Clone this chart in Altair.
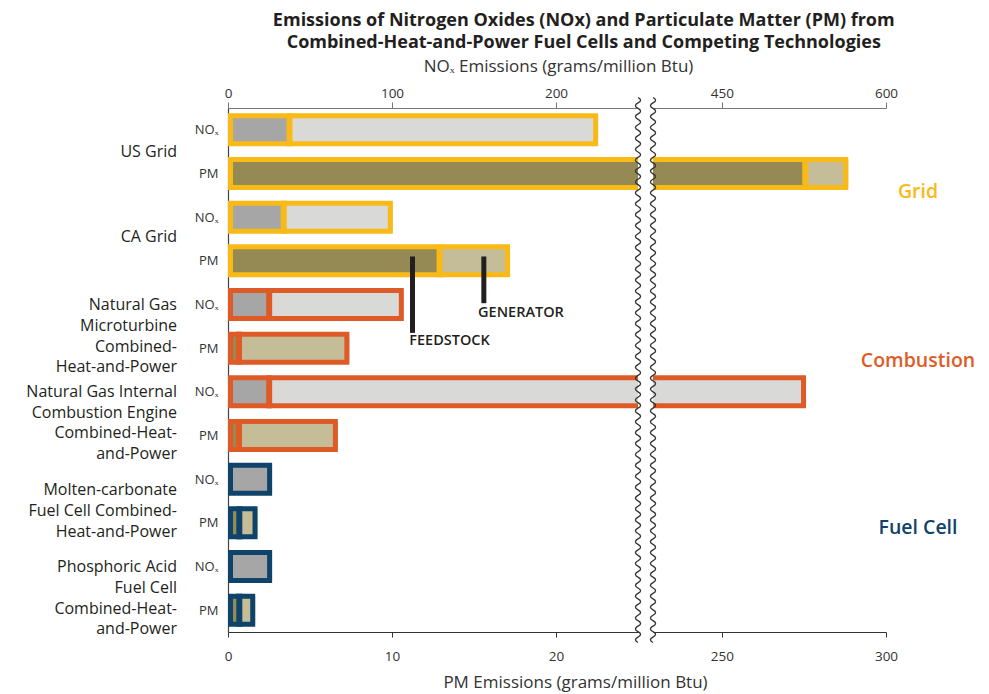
import altair as alt
import pandas as pd

# ---------------- data ----------------
group_names = ["US Grid", "CA Grid",
               "Natural Gas Microturbine Combined-Heat-and-Power",
               "Natural Gas Internal Combustion Engine Combined-Heat-and-Power",
               "Molten-carbonate Fuel Cell Combined-Heat-and-Power",
               "Phosphoric Acid Fuel Cell Combined-Heat-and-Power"]
group_label_lines = [["US Grid"], ["CA Grid"],
                     ["Natural Gas", "Microturbine", "Combined-", "Heat-and-Power"],
                     ["Natural Gas Internal", "Combustion Engine", "Combined-Heat-", "and-Power"],
                     ["Molten-carbonate", "Fuel Cell Combined-", "Heat-and-Power"],
                     ["Phosphoric Acid", "Fuel Cell", "Combined-Heat-", "and-Power"]]
group_label_first_row = [1.00, 2.95, 4.51, 6.50, 8.75, 10.51]
group_category = ["Grid", "Grid", "Combustion", "Combustion", "Fuel Cell", "Fuel Cell"]

# NOx (grams/million Btu)
nox_feedstock = [37.5, 34.0, 25.1, 25.1, 26.9, 26.9]
nox_total = [225.7, 100.5, 107.2, 526.9, 26.9, 26.9]
# PM (grams/million Btu)
pm_feedstock = [275.4, 12.9, 0.67, 0.67, 0.69, 0.69]
pm_total = [288.5, 17.2, 7.4, 6.7, 1.80, 1.66]

categories = ["Grid", "Combustion", "Fuel Cell"]
category_colors = ["#F9BA17", "#DE5B27", "#0F436A"]
category_label_rows = [1.92, 5.80, 9.62]

segment_keys = ["NOx feedstock", "NOx generator", "PM feedstock", "PM generator"]
segment_colors = ["#A6A6A6", "#D9D9D7", "#958A54", "#C5BD97"]

annotation_text = ["FEEDSTOCK", "GENERATOR"]
annotation_pm = [11.25, 15.6]
annotation_top_row = [3.40, 3.40]
annotation_bottom_row = [5.15, 4.47]
annotation_label_pm = [11.05, 15.25]
annotation_label_row = [5.34, 4.70]

left_nox_domain = [0, 250]
left_pm_domain = [0, 25]
right_nox_domain = [387, 600]
right_pm_domain = [229, 300]
left_nox_ticks = [0, 100, 200]
right_nox_ticks = [450, 600]
left_pm_ticks = [0, 10, 20]
right_pm_ticks = [250, 300]

# ---------------- tables ----------------
bar_rows = []
for g in range(len(group_names)):
    bar_rows.append(dict(row=2 * g, measure="NOx", category=group_category[g],
                         feed=nox_feedstock[g], total=nox_total[g]))
    bar_rows.append(dict(row=2 * g + 1, measure="PM", category=group_category[g],
                         feed=pm_feedstock[g], total=pm_total[g]))
bars = pd.DataFrame(bar_rows)

seg_rows = []
for r in bar_rows:
    seg_rows.append(dict(row=r["row"], measure=r["measure"], key=r["measure"] + " feedstock",
                         start=0.0, end=r["feed"]))
    if r["total"] > r["feed"]:
        seg_rows.append(dict(row=r["row"], measure=r["measure"], key=r["measure"] + " generator",
                             start=r["feed"], end=r["total"]))
segments = pd.DataFrame(seg_rows)
dividers = bars[bars["total"] > bars["feed"]].reset_index(drop=True)

label_rows = []
for g, lines in enumerate(group_label_lines):
    for k, t in enumerate(lines):
        label_rows.append(dict(text=t, row=group_label_first_row[g] + k * 0.476))
group_labels = pd.DataFrame(label_rows)

cat_labels = pd.DataFrame(dict(category=categories, row=category_label_rows))
annots = pd.DataFrame(dict(text=annotation_text, pm=annotation_pm, top=annotation_top_row,
                           bottom=annotation_bottom_row, lpm=annotation_label_pm,
                           lrow=annotation_label_row))

# ---------------- styling ----------------
FONT = "Open Sans"
INK = "#231F20"
H = 524
LEFT_W = 410
RIGHT_W = 233
HALF_BAR = 0.3206   # stroke-centre half height (rows)
HALF_DIV = 0.378    # divider half height (rows)

yscale = alt.Scale(domain=[0, 12], reverse=True, nice=False, zero=False)
cat_scale = alt.Scale(domain=categories, range=category_colors)
seg_scale = alt.Scale(domain=segment_keys, range=segment_colors)


def squiggle_path(periods=50, amp=0.0095):
    n = periods * 2
    step = 2.0 / n
    parts = ["M0,-1"]
    y = -1.0
    for k in range(n):
        cx = 2 * amp if k % 2 == 0 else -2 * amp
        parts.append(f"Q{cx:.4f},{y + step / 2:.4f} 0,{y + step:.4f}")
        y += step
    return " ".join(parts)


SQUIGGLE = squiggle_path()


def panel(left):
    width = LEFT_W if left else RIGHT_W
    nox_dom = left_nox_domain if left else right_nox_domain
    pm_dom = left_pm_domain if left else right_pm_domain
    nox_scale = alt.Scale(domain=nox_dom, nice=False, zero=False)
    pm_scale = alt.Scale(domain=pm_dom, nice=False, zero=False)

    common_top = dict(orient="top", tickSize=6, labelPadding=2, domainColor="#777",
                      tickColor="#777", labelFlush=False, grid=False, labelFontSize=13.5,
                      labelColor="#333")
    common_bottom = dict(orient="bottom", tickSize=5, labelPadding=12, domainColor="#333",
                         tickColor="#333", labelFlush=False, grid=False, labelFontSize=13.5,
                         labelColor="#333")
    if left:
        yaxis = alt.Axis(values=[i + 0.5 for i in range(12)],
                         labelExpr="floor(datum.value) % 2 == 0 ? 'NOₓ' : 'PM'",
                         ticks=False, grid=False, domainColor="#444", domainWidth=1.2,
                         labelPadding=10, labelFontSize=13, labelColor="#333")
        nox_axis = alt.Axis(values=left_nox_ticks, titleX=330, titleY=-42,
                            titleBaseline="middle", titleFontSize=17,
                            titleFontWeight="normal", titleColor="#333", **common_top)
        pm_axis = alt.Axis(values=left_pm_ticks, titleX=347, titleY=50,
                           titleBaseline="middle", titleFontSize=17,
                           titleFontWeight="normal", titleColor="#333", **common_bottom)
        nox_title = "NOₓ Emissions (grams/million Btu)"
        pm_title = "PM Emissions (grams/million Btu)"
    else:
        yaxis = None
        nox_axis = alt.Axis(values=right_nox_ticks, **common_top)
        pm_axis = alt.Axis(values=right_pm_ticks, **common_bottom)
        nox_title = None
        pm_title = None

    def Y(field):
        return alt.Y(field, type="quantitative", scale=yscale, axis=yaxis, title=None)

    def measure_group(measure, xscale, xaxis, xtitle):
        def X(field):
            return alt.X(field, type="quantitative", scale=xscale, axis=xaxis, title=xtitle)

        fills = alt.Chart(segments).transform_filter(
            alt.datum.measure == measure
        ).transform_calculate(
            ya=f"datum.row + 0.5 - {HALF_BAR}", yb=f"datum.row + 0.5 + {HALF_BAR}"
        ).mark_rect(clip=True).encode(
            x=X("start"), x2="end", y=Y("ya"), y2="yb",
            fill=alt.Fill("key:N", scale=seg_scale, legend=None),
        )
        outline = alt.Chart(bars).transform_filter(
            alt.datum.measure == measure
        ).transform_calculate(
            ya=f"datum.row + 0.5 - {HALF_BAR}", yb=f"datum.row + 0.5 + {HALF_BAR}", x0="0"
        ).mark_rect(clip=True, filled=False, strokeWidth=5, xOffset=2.5, x2Offset=-2.5).encode(
            x=X("x0:Q"), x2="total", y=Y("ya"), y2="yb",
            color=alt.Color("category:N", scale=cat_scale, legend=None),
        )
        divs = alt.Chart(dividers).transform_filter(
            alt.datum.measure == measure
        ).transform_calculate(
            ya=f"datum.row + 0.5 - {HALF_DIV}", yb=f"datum.row + 0.5 + {HALF_DIV}"
        ).mark_rule(clip=True, strokeWidth=6).encode(
            x=X("feed"), y=Y("ya"), y2="yb",
            color=alt.Color("category:N", scale=cat_scale, legend=None),
        )
        layers = [fills, outline, divs]
        if measure == "PM" and left:
            ann_rule = alt.Chart(annots).mark_rule(strokeWidth=5, color=INK).encode(
                x=X("pm"), y=Y("top"), y2="bottom")
            ann_text = alt.Chart(annots).mark_text(
                align="left", baseline="middle", fontSize=14.5, fontWeight=600, color=INK
            ).encode(x=X("lpm"), y=Y("lrow"), text="text:N")
            layers += [ann_rule, ann_text]
        return alt.layer(*layers)

    nox_g = measure_group("NOx", nox_scale, nox_axis, nox_title)
    pm_g = measure_group("PM", pm_scale, pm_axis, pm_title)

    extra = []
    squig = alt.Chart(cat_labels).transform_filter(alt.datum.category == "Grid").mark_point(
        shape=SQUIGGLE, size=545 ** 2, filled=False, stroke="#333", strokeWidth=1.3, opacity=1
    ).encode(x=alt.value(width if left else 0), y=alt.value(H / 2))
    extra.append(squig)
    if left:
        gl = alt.Chart(group_labels).mark_text(
            align="right", baseline="middle", fontSize=16, color=INK
        ).encode(x=alt.value(-51), y=Y("row"), text="text:N")
        extra.append(gl)
    else:
        cl = alt.Chart(cat_labels).mark_text(
            align="center", baseline="middle", fontSize=19.5, fontWeight=600
        ).encode(x=alt.value(265), y=Y("row"), text="category:N",
                 color=alt.Color("category:N", scale=cat_scale, legend=None))
        extra.append(cl)

    return alt.layer(nox_g, pm_g, *extra).resolve_scale(x="independent").properties(
        width=width, height=H)


chart = alt.hconcat(panel(True), panel(False), spacing=15, bounds="flush").properties(
    title=alt.TitleParams(
        ["Emissions of Nitrogen Oxides (NOx) and Particulate Matter (PM) from",
         "Combined-Heat-and-Power Fuel Cells and Competing Technologies"],
        fontSize=18, fontWeight="bold", color=INK, anchor="middle", lineHeight=22, offset=5,
        dx=83,
    ),
    padding={"left": 18, "top": 4, "right": 5, "bottom": 5},
).configure(font=FONT).configure_view(stroke=None)

chart.save("out.html", embed_options={"renderer": "svg", "actions": False})
